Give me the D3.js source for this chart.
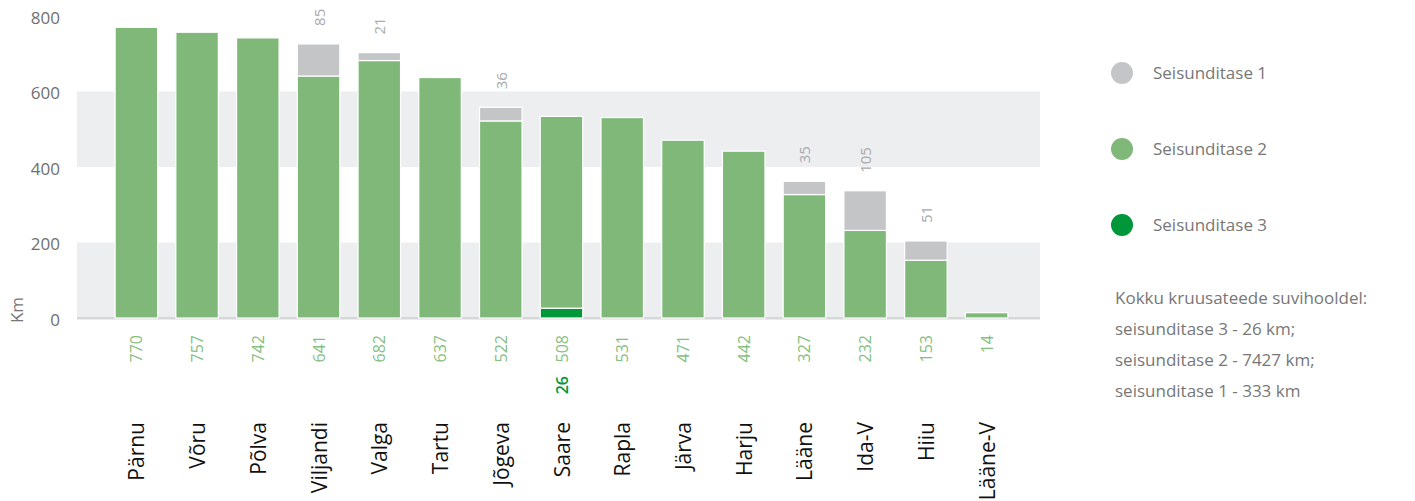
<!DOCTYPE html>
<html>
<head>
<meta charset="utf-8">
<script src="https://d3js.org/d3.v7.min.js"></script>
<style>
  body { margin: 0; background: #fff; }
  svg { display: block; font-family: "Open Sans", sans-serif; }
</style>
</head>
<body>
<script>
var counties = ["Pärnu", "Võru", "Põlva", "Viljandi", "Valga", "Tartu", "Jõgeva", "Saare",
                "Rapla", "Järva", "Harju", "Lääne", "Ida-V", "Hiiu", "Lääne-V"];
var level3 = [0, 0, 0, 0, 0, 0, 0, 26, 0, 0, 0, 0, 0, 0, 0];
var level2 = [770, 757, 742, 641, 682, 637, 522, 508, 531, 471, 442, 327, 232, 153, 14];
var level1 = [0, 0, 0, 85, 21, 0, 36, 0, 0, 0, 0, 35, 105, 51, 0];
var yTicks = [0, 200, 400, 600, 800];
var legendNames = ["Seisunditase 1", "Seisunditase 2", "Seisunditase 3"];
var noteLines = ["Kokku kruusateede suvihooldel:", "seisunditase 3 - 26 km;",
                 "seisunditase 2 - 7427 km;", "seisunditase 1 - 333 km"];

var colors = {l1: "#c4c5c7", l2: "#80b87a", l3: "#00963a"};

var width = 1415, height = 501;
var svg = d3.select("body").append("svg")
    .attr("width", width)
    .attr("height", height);

var rows = counties.map(function(c, i) {
    return {name: c, l3: level3[i], l2: level2[i], l1: level1[i]};
});

var x = d3.scaleBand().domain(counties).range([106, 1017])
    .paddingInner(0.3).paddingOuter(0.15);
var y = d3.scaleLinear().domain([0, 800]).range([318, 16]);

// background bands
var plotLeft = 77, plotRight = 1040;
[[400, 600], [0, 200]].forEach(function(b) {
    svg.append("rect")
        .attr("x", plotLeft).attr("width", plotRight - plotLeft)
        .attr("y", y(b[1])).attr("height", y(b[0]) - y(b[1]))
        .attr("fill", "#edeef0");
});
svg.append("rect")
    .attr("x", plotLeft).attr("width", plotRight - plotLeft)
    .attr("y", y(0) - 1).attr("height", 2.5)
    .attr("fill", "#d6d7d9");

// y axis
var yAxis = svg.append("g")
    .attr("transform", "translate(60,2)")
    .call(d3.axisLeft(y).tickValues(yTicks).tickSize(0).tickPadding(0));
yAxis.select(".domain").remove();
yAxis.selectAll("text")
    .attr("fill", "#6f6f6f")
    .style("font-size", "17px")
    .style("font-family", "Open Sans, sans-serif");

svg.append("text")
    .attr("transform", "translate(23,310) rotate(-90)")
    .attr("text-anchor", "middle")
    .attr("fill", "#777")
    .style("font-size", "17px")
    .text("Km");

// stacked bars
var stack = d3.stack().keys(["l3", "l2", "l1"]);
var series = stack(rows);
svg.selectAll("g.layer")
    .data(series)
    .enter().append("g")
    .attr("class", "layer")
    .attr("fill", function(d) { return colors[d.key]; })
    .selectAll("rect")
    .data(function(d) { return d.filter(function(p) { return p[1] > p[0]; }); })
    .enter().append("rect")
    .attr("x", function(d) { return x(d.data.name); })
    .attr("width", x.bandwidth())
    .attr("y", function(d) { return y(d[1]); })
    .attr("height", function(d) { return y(d[0]) - y(d[1]); })
    .attr("stroke", "#fff")
    .attr("stroke-width", 1.2);

// level 2 values below axis
svg.selectAll("text.v2")
    .data(rows)
    .enter().append("text")
    .attr("class", "v2")
    .attr("transform", function(d) {
        return "translate(" + (x(d.name) + x.bandwidth() / 2 + 6) + ",335) rotate(-90)";
    })
    .attr("text-anchor", "end")
    .attr("fill", "#86c07f")
    .style("font-size", "16px")
    .text(function(d) { return d.l2; });

// level 3 values
svg.selectAll("text.v3")
    .data(rows.filter(function(d) { return d.l3 > 0; }))
    .enter().append("text")
    .attr("class", "v3")
    .attr("transform", function(d) {
        return "translate(" + (x(d.name) + x.bandwidth() / 2 + 6) + ",376) rotate(-90)";
    })
    .attr("text-anchor", "end")
    .attr("fill", "#00963a")
    .style("font-size", "16px")
    .style("font-weight", "600")
    .text(function(d) { return d.l3; });

// level 1 values above bars
svg.selectAll("text.v1")
    .data(rows.filter(function(d) { return d.l1 > 0; }))
    .enter().append("text")
    .attr("class", "v1")
    .attr("transform", function(d) {
        var top = y(d.l3 + d.l2 + d.l1);
        return "translate(" + (x(d.name) + x.bandwidth() / 2 + 6) + "," + (top - 18) + ") rotate(-90)";
    })
    .attr("text-anchor", "start")
    .attr("fill", "#a9aaac")
    .style("font-size", "15px")
    .text(function(d) { return d.l1; });

// county names
svg.selectAll("text.cat")
    .data(counties)
    .enter().append("text")
    .attr("class", "cat")
    .attr("transform", function(d) {
        return "translate(" + (x(d) + x.bandwidth() / 2 + 8) + ",422) rotate(-90)";
    })
    .attr("text-anchor", "end")
    .attr("fill", "#111")
    .style("font-size", "21px")
    .text(function(d) { return d; });

// legend
var legend = svg.append("g").attr("transform", "translate(1122,0)");
var legendColors = [colors.l1, colors.l2, colors.l3];
legendNames.forEach(function(n, i) {
    var cy = 73 + i * 76;
    legend.append("circle")
        .attr("cx", 0).attr("cy", cy).attr("r", 11)
        .attr("fill", legendColors[i]);
    legend.append("text")
        .attr("x", 31).attr("y", cy + 6)
        .attr("fill", "#777")
        .style("font-size", "17px")
        .text(n);
});

noteLines.forEach(function(t, i) {
    svg.append("text")
        .attr("x", 1115).attr("y", 304 + i * 31)
        .attr("fill", "#777")
        .style("font-size", "17px")
        .text(t);
});
</script>
</body>
</html>
